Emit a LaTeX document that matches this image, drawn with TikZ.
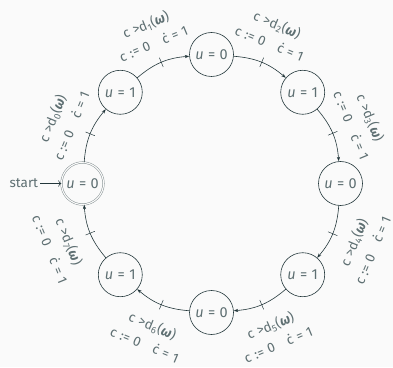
\documentclass[tikz,border=0pt]{standalone}
\usepackage{fontspec}
\setmainfont{Fira Sans}
\usetikzlibrary{arrows.meta,decorations.markings,calc}
\definecolor{mDark}{HTML}{23373B}
\definecolor{mBg}{HTML}{FAFAFA}
\definecolor{mText}{HTML}{5E6F72}
\newcommand{\sq}{\hspace{0.3em}}
\newcommand{\lab}[1]{c\sq{}>d\textsubscript{#1}(\textbf{\textit{ω}})\\[5pt]c\sq{}:=\sq{}0\quad ċ\sq{}=\sq{}1}
\begin{document}
\begin{tikzpicture}[x=1pt,y=1pt,
  state/.style={circle,draw=mDark,line width=0.6pt,minimum size=44pt,inner sep=0pt,text=mText,font=\fontsize{14.5}{16}\selectfont},
  startstate/.style={state,draw=mDark!60,double=mBg,double distance=1.2pt,line width=0.45pt,minimum size=42pt},
  trans/.style={draw=mDark,line width=0.6pt,-{Stealth[length=4.5pt,width=3.2pt]},bend left=18,
    postaction={decorate},
    decoration={markings,mark=at position 0.5 with {\draw[line width=0.5pt,-] (0,-5pt) -- (0,5pt);}}},
  lbl/.style={sloped,align=center,text=mText,font=\fontsize{13.5}{15.5}\selectfont,inner sep=0pt},
  lblup/.style={lbl,above,outer sep=15pt},
  lbldown/.style={lbl,below,outer sep=16.5pt}
]
\fill[mBg] (0,0) rectangle (393,367);
\useasboundingbox (0,0) rectangle (393,367);
\coordinate (ctr) at (211.5,183.5);
\node[startstate] (n0) at ($(ctr)+(180:129)$) {\textit{u}\sq=\sq0};
\node[state] (n1) at ($(ctr)+(135:129)$) {\textit{u}\sq=\sq1};
\node[state] (n2) at ($(ctr)+(90:129)$) {\textit{u}\sq=\sq0};
\node[state] (n3) at ($(ctr)+(45:129)$) {\textit{u}\sq=\sq1};
\node[state] (n4) at ($(ctr)+(0:129)$) {\textit{u}\sq=\sq0};
\node[state] (n5) at ($(ctr)+(-45:129)$) {\textit{u}\sq=\sq1};
\node[state] (n6) at ($(ctr)+(-90:129)$) {\textit{u}\sq=\sq0};
\node[state] (n7) at ($(ctr)+(-135:129)$) {\textit{u}\sq=\sq1};
\node[text=mText,font=\fontsize{13.5}{15}\selectfont,anchor=east,inner sep=0pt] (st) at ([xshift=-23pt]n0.west) {start};
\draw[mDark,line width=0.6pt,-{To[length=3pt]}] ([xshift=2pt]st.east) -- (n0.west);
\draw[trans] (n0) to node[lblup] {\lab{0}} (n1);
\draw[trans] (n1) to node[lblup] {\lab{1}} (n2);
\draw[trans] (n2) to node[lblup] {\lab{2}} (n3);
\draw[trans] (n3) to node[lblup] {\lab{3}} (n4);
\draw[trans] (n4) to node[lbldown] {\lab{4}} (n5);
\draw[trans] (n5) to node[lbldown] {\lab{5}} (n6);
\draw[trans] (n6) to node[lbldown] {\lab{6}} (n7);
\draw[trans] (n7) to node[lbldown] {\lab{7}} (n0);
\end{tikzpicture}
\end{document}
